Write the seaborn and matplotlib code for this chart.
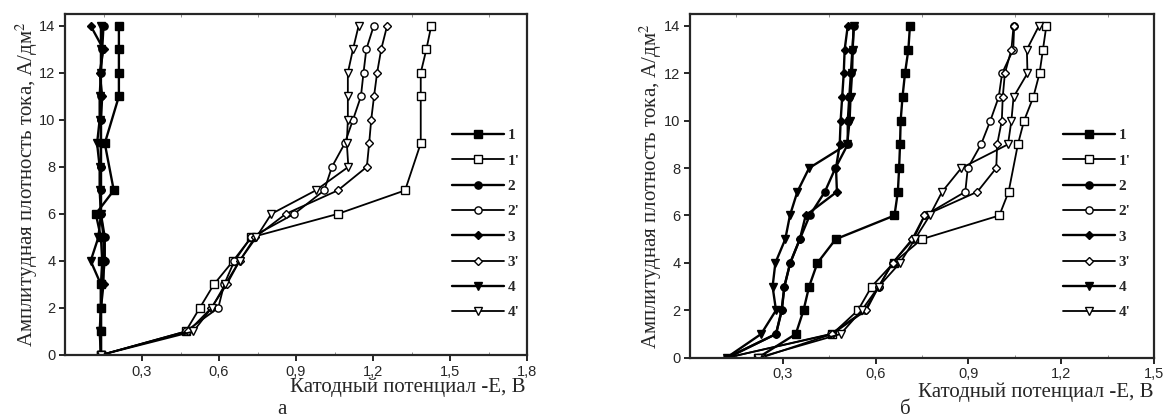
import numpy as np
import pandas as pd
import matplotlib
matplotlib.use("Agg")
import matplotlib.pyplot as plt
import seaborn as sns

# --- Daten: Stromdichte (y) gegen Kathodenpotential (x) ---
Y_ALL = list(range(15))

# Panel а
A_Y = {
    "1":  [0, 1, 2, 3, 4, 5, 6, 7, 9, 11, 12, 13, 14],
    "1'": [0, 1, 2, 3, 4, 5, 6, 7, 9, 11, 12, 13, 14],
}
A_X = {
    "1":  [0.14, 0.14, 0.14, 0.14, 0.145, 0.14, 0.12, 0.19, 0.155, 0.21, 0.21, 0.21, 0.21],
    "1'": [0.14, 0.47, 0.525, 0.58, 0.655, 0.725, 1.063, 1.325, 1.386, 1.386, 1.386, 1.408, 1.427],
    "2":  [0.14, 0.14, 0.14, 0.145, 0.155, 0.155, 0.14, 0.14, 0.14, 0.14, 0.14, 0.14, 0.14, 0.145, 0.15],
    "2'": [0.14, 0.47, 0.597, 0.62, 0.66, 0.725, 0.893, 1.01, 1.04, 1.09, 1.122, 1.153, 1.163, 1.174, 1.203],
    "3":  [0.14, 0.14, 0.14, 0.15, 0.15, 0.15, 0.14, 0.14, 0.14, 0.14, 0.14, 0.145, 0.135, 0.15, 0.10],
    "3'": [0.14, 0.48, 0.57, 0.63, 0.68, 0.74, 0.86, 1.063, 1.176, 1.185, 1.193, 1.204, 1.216, 1.232, 1.255],
    "4":  [0.14, 0.135, 0.14, 0.14, 0.10, 0.13, 0.14, 0.135, 0.135, 0.125, 0.135, 0.135, 0.14, 0.14, 0.14],
    "4'": [0.14, 0.50, 0.571, 0.624, 0.68, 0.745, 0.804, 0.977, 1.104, 1.098, 1.102, 1.102, 1.102, 1.122, 1.144],
}

# Panel б
B_Y = {
    "1'": [0, 1, 2, 3, 4, 5, 6, 7, 9, 10, 11, 12, 13, 14],
}
B_X = {
    "1":  [0.22, 0.342, 0.367, 0.385, 0.412, 0.471, 0.661, 0.672, 0.676, 0.679, 0.681, 0.687, 0.695, 0.706, 0.711],
    "1'": [0.23, 0.46, 0.543, 0.587, 0.658, 0.749, 1.0, 1.03, 1.06, 1.08, 1.11, 1.13, 1.141, 1.152],
    "2":  [0.12, 0.278, 0.297, 0.305, 0.324, 0.355, 0.387, 0.436, 0.47, 0.51, 0.51, 0.515, 0.52, 0.525, 0.53],
    "2'": [0.12, 0.455, 0.565, 0.61, 0.655, 0.722, 0.759, 0.89, 0.898, 0.941, 0.971, 0.998, 1.009, 1.045, 1.048],
    "3":  [0.122, 0.278, 0.296, 0.305, 0.324, 0.355, 0.374, 0.475, 0.472, 0.484, 0.487, 0.492, 0.497, 0.50, 0.51],
    "3'": [0.12, 0.46, 0.57, 0.61, 0.655, 0.718, 0.758, 0.929, 0.99, 0.993, 1.008, 1.011, 1.018, 1.039, 1.046],
    "4":  [0.118, 0.23, 0.278, 0.267, 0.276, 0.308, 0.323, 0.347, 0.385, 0.508, 0.516, 0.519, 0.524, 0.526, 0.529],
    "4'": [0.22, 0.487, 0.555, 0.61, 0.679, 0.727, 0.775, 0.815, 0.877, 1.028, 1.039, 1.046, 1.091, 1.089, 1.128],
}

SERIES = ["1", "1'", "2", "2'", "3", "3'", "4", "4'"]
MARKERS = {"1": "s", "2": "o", "3": "D", "4": "v"}

XLABEL = "Катодный потенциал -Е, В"
YLABEL = "Амплитудная плотность тока, А/дм$^2$"

sns.set_style("ticks")
plt.rcParams["font.family"] = ["Liberation Sans", "DejaVu Sans"]
plt.rcParams["mathtext.fontset"] = "stix"
SERIF = ["Liberation Serif", "DejaVu Serif"]


def draw_panel(ax, xs, ys, xlim, xticks):
    for name in SERIES:
        x = xs[name]
        y = ys.get(name, Y_ALL)
        df = pd.DataFrame({"x": x, "y": y})
        is_open = name.endswith("'")
        m = MARKERS[name[0]]
        sns.lineplot(data=df, x="x", y="y", ax=ax, sort=False, estimator=None,
                     color="black", lw=1.3 if is_open else 1.7,
                     marker=m, markersize=4.5 if m == "D" else 5.2,
                     markerfacecolor="white" if is_open else "black",
                     markeredgecolor="black", markeredgewidth=1.0,
                     label=name, legend=False)
    ax.set_xlim(*xlim)
    ax.set_ylim(0, 14.5)
    ax.set_xticks(xticks)
    ax.set_xticklabels([f"{t:.1f}".replace(".", ",") for t in xticks])
    ax.set_xticks(np.array(xticks) - 0.15, minor=True)
    ax.set_yticks(range(0, 15, 2))
    ax.tick_params(axis="both", which="major", direction="out", length=4,
                   width=1.4, labelsize=10.5, pad=3)
    ax.tick_params(axis="x", which="minor", direction="in", length=2,
                   width=0.6, color="0.5", top=True)
    for s in ax.spines.values():
        s.set_linewidth(1.6)
    ax.set_xlabel("")
    ax.set_ylabel(YLABEL, family=SERIF, fontsize=15)
    handles, labels = ax.get_legend_handles_labels()
    return handles, labels


fig = plt.figure(figsize=(11.68, 4.2), dpi=100)
ax_a = fig.add_axes([65 / 1168, 1 - 355 / 420, 462 / 1168, 341 / 420])
ax_b = fig.add_axes([690 / 1168, 1 - 357.7 / 420, 464 / 1168, 343.7 / 420])

ha, la = draw_panel(ax_a, A_X, A_Y, (0, 1.8), [0.3, 0.6, 0.9, 1.2, 1.5, 1.8])
hb, lb = draw_panel(ax_b, B_X, B_Y, (0, 1.5), [0.3, 0.6, 0.9, 1.2, 1.5])
ax_a.yaxis.set_label_coords(-0.054, 0.5)
ax_b.yaxis.set_label_coords(-0.055, 0.5)

leg_kw = dict(loc="upper left", frameon=False, handlelength=3.4,
              handletextpad=0.25, labelspacing=0.76, borderpad=0,
              prop={"family": SERIF, "weight": "bold", "size": 11})
fig.legend(ha, la, bbox_to_anchor=(444 / 1168, 1 - 121 / 420), **leg_kw)
fig.legend(hb, lb, bbox_to_anchor=(1055 / 1168, 1 - 121 / 420), **leg_kw)

fig.text(526 / 1168, 1 - 387 / 420, XLABEL, ha="right", va="center",
         family=SERIF, fontsize=15)
fig.text(1154 / 1168, 1 - 392 / 420, XLABEL, ha="right", va="center",
         family=SERIF, fontsize=15)
fig.text(282 / 1168, 1 - 409 / 420, "а", ha="center", va="center",
         family=SERIF, fontsize=15)
fig.text(905 / 1168, 1 - 409 / 420, "б", ha="center", va="center",
         family=SERIF, fontsize=15)

fig.savefig("out.png", dpi=100)
plt.close(fig)
